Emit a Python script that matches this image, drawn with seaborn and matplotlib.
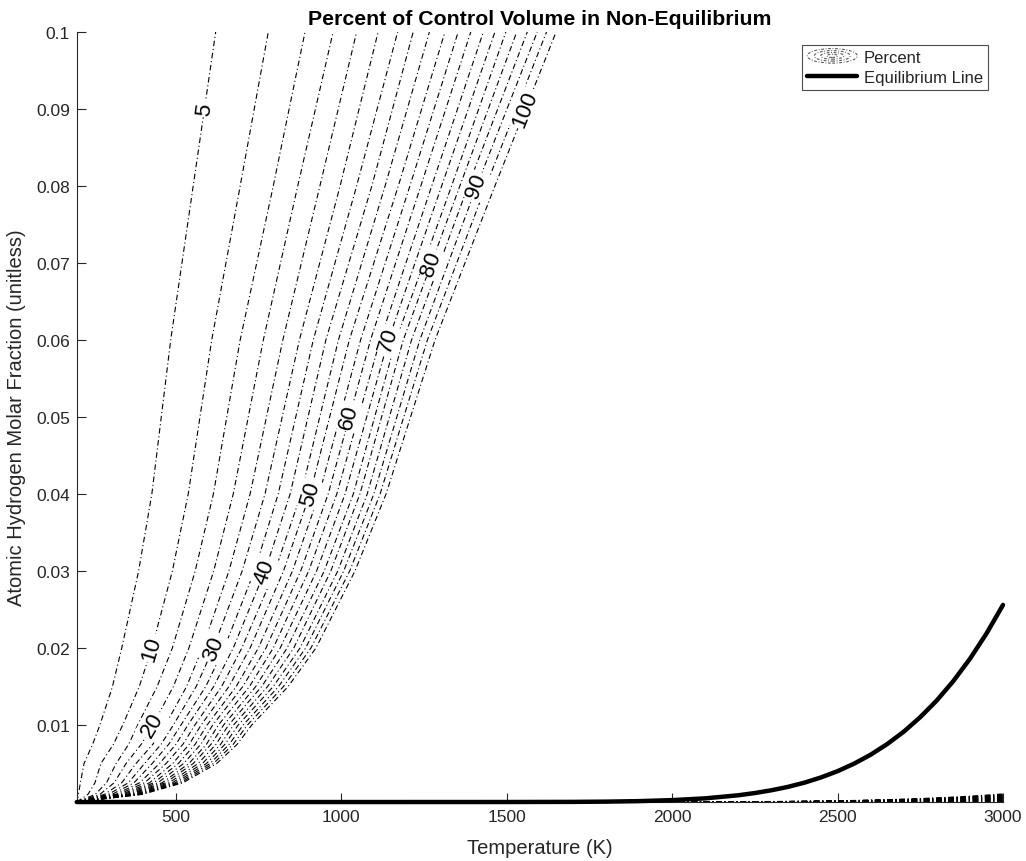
import numpy as np
import pandas as pd
import matplotlib
matplotlib.use("Agg")
import matplotlib.pyplot as plt
import seaborn as sns
from matplotlib.legend_handler import HandlerBase
from matplotlib.patches import Ellipse
from matplotlib.lines import Line2D

# ---------------- data ----------------
levels = [5, 10, 15, 20, 25, 30, 35, 40, 45, 50, 55, 60, 65, 70, 75, 80, 85, 90, 95, 100]
y_samples = [0.0, 0.001, 0.0025, 0.005, 0.0075, 0.01, 0.015, 0.02, 0.03, 0.04, 0.06, 0.08, 0.1]

# Temperature (K) where each contour level crosses each y sample
T_y0000 = [200] * 20
T_y0010 = [205, 234, 256, 270, 284, 296, 307, 318, 327, 336, 344, 352, 359, 365, 372, 379, 384, 389, 394, 399]
T_y0025 = [211, 255, 290, 313, 336, 356, 373, 390, 405, 420, 433, 445, 458, 468, 479, 489, 498, 506, 514, 521]
T_y0050 = [222, 273, 319, 349, 379, 405, 428, 450, 470, 490, 507, 523, 539, 552, 567, 580, 592, 603, 613, 623]
T_y0075 = [248, 311, 357, 395, 430, 455, 478, 500, 521, 540, 558, 575, 592, 606, 621, 635, 648, 661, 673, 685]
T_y0100 = [270, 339, 384, 430, 468, 492, 515, 536, 557, 576, 594, 611, 628, 644, 659, 674, 688, 703, 716, 729]
T_y0150 = [308, 389, 443, 492, 532, 561, 590, 614, 638, 660, 682, 702, 722, 741, 759, 777, 794, 810, 825, 839]
T_y0200 = [336, 427, 489, 539, 580, 613, 646, 673, 699, 724, 749, 772, 794, 815, 836, 856, 875, 892, 908, 923]
T_y0300 = [387, 489, 558, 614, 660, 700, 737, 769, 799, 825, 852, 877, 901, 925, 948, 968, 989, 1007, 1025, 1041]
T_y0400 = [427, 537, 613, 673, 724, 769, 809, 845, 878, 905, 933, 960, 986, 1011, 1036, 1056, 1078, 1098, 1117, 1135]
T_y0600 = [484, 608, 694, 764, 823, 873, 915, 953, 991, 1024, 1058, 1088, 1117, 1142, 1165, 1187, 1212, 1237, 1260, 1283]
T_y0800 = [552, 694, 794, 868, 935, 996, 1046, 1092, 1132, 1172, 1207, 1240, 1273, 1303, 1333, 1358, 1383, 1409, 1437, 1464]
T_y1000 = [620, 779, 890, 975, 1046, 1111, 1170, 1217, 1266, 1313, 1353, 1391, 1429, 1464, 1497, 1530, 1562, 1592, 1620, 1649]

# contour labels: level and the y at which its label sits
label_levels = [5, 10, 20, 30, 40, 50, 60, 70, 80, 90, 100]
label_y = [0.09, 0.02, 0.01, 0.02, 0.03, 0.04, 0.05, 0.06, 0.07, 0.08, 0.09]

# equilibrium line
eq_T = [200, 1000, 1500, 1700, 1800, 1900, 2000, 2100, 2200, 2250, 2300, 2350, 2400, 2450, 2500,
        2550, 2600, 2650, 2700, 2750, 2800, 2850, 2900, 2950, 3000]
eq_y = [0.0, 0.0, 0.000004, 0.000021, 0.000053, 0.00012, 0.00025, 0.00048, 0.00088, 0.00117, 0.00153,
        0.00197, 0.00252, 0.00320, 0.00401, 0.00499, 0.00615, 0.00753, 0.00914, 0.01103, 0.0132,
        0.01572, 0.0186, 0.02188, 0.0256]

# low branch of the contours hugging the axis at high T (fraction of the equilibrium value)
lower_fraction = [0.002, 0.004, 0.006, 0.008, 0.010, 0.012, 0.014, 0.016, 0.018, 0.020,
                  0.022, 0.024, 0.026, 0.028, 0.030, 0.032, 0.034, 0.036, 0.038, 0.041]

# ---------------- build long-form table ----------------
T_cols = [T_y0000, T_y0010, T_y0025, T_y0050, T_y0075, T_y0100, T_y0150, T_y0200,
          T_y0300, T_y0400, T_y0600, T_y0800, T_y1000]
rows = []
for i, lev in enumerate(levels):
    for j, yv in enumerate(y_samples):
        rows.append({"level": lev, "T": T_cols[j][i], "y": yv})
df = pd.DataFrame(rows)

low_rows = []
for i, lev in enumerate(levels):
    for tv, ev in zip(eq_T, eq_y):
        if tv >= 1800:
            low_rows.append({"level": lev, "T": tv, "y": ev * lower_fraction[i]})
df_low = pd.DataFrame(low_rows)

df_eq = pd.DataFrame({"T": eq_T, "y": eq_y})

# ---------------- style ----------------
sns.set_style("white")
plt.rcParams["font.family"] = ["Liberation Sans", "DejaVu Sans"]
plt.rcParams["lines.scale_dashes"] = True

fig = plt.figure(figsize=(10.26, 8.62), dpi=100)
ax = fig.add_axes([0.0748, 0.0684, 0.9028, 0.8933])

dash = (0, (5, 2.5, 1, 2.5))
ink = "#262626"

sns.lineplot(data=df, x="T", y="y", units="level", estimator=None, sort=False,
             color="black", lw=0.8, linestyle=dash, legend=False, ax=ax)
sns.lineplot(data=df_low, x="T", y="y", units="level", estimator=None, sort=False,
             color="black", lw=0.8, linestyle=dash, legend=False, ax=ax)
sns.lineplot(data=df_eq, x="T", y="y", estimator=None, sort=False,
             color="black", lw=3.2, legend=False, ax=ax, clip_on=False, zorder=5)

ax.set_xlim(200, 3000)
ax.set_ylim(0, 0.1)
ax.set_xticks([500, 1000, 1500, 2000, 2500, 3000])
ax.set_yticks([0.01, 0.02, 0.03, 0.04, 0.05, 0.06, 0.07, 0.08, 0.09, 0.1])
ax.set_yticklabels(["0.01", "0.02", "0.03", "0.04", "0.05", "0.06", "0.07", "0.08", "0.09", "0.1"])
ax.tick_params(direction="in", length=6.5, width=0.8, colors=ink, labelsize=12.5,
               labelcolor=ink, left=True, bottom=True, top=False, right=False, pad=5)
for s in ["top", "right"]:
    ax.spines[s].set_visible(False)
for s in ["left", "bottom"]:
    ax.spines[s].set_color(ink)
    ax.spines[s].set_linewidth(0.8)

ax.set_xlabel("Temperature (K)", fontsize=14.5, color=ink, labelpad=10)
ax.set_ylabel("Atomic Hydrogen Molar Fraction (unitless)", fontsize=14.5, color=ink, labelpad=7)
ax.set_title("Percent of Control Volume in Non-Equilibrium", fontsize=15.3,
             fontweight="bold", color="black", pad=5.5)

# ---------------- inline contour labels ----------------
fig.canvas.draw()
for lev, yl in zip(label_levels, label_y):
    i = levels.index(lev)
    curve_T = [col[i] for col in T_cols]
    tx = np.interp(yl, y_samples, curve_T)
    ya, yb = yl - 0.003, yl + 0.003
    pa = ax.transData.transform((np.interp(ya, y_samples, curve_T), ya))
    pb = ax.transData.transform((np.interp(yb, y_samples, curve_T), yb))
    ang = np.degrees(np.arctan2(pb[1] - pa[1], pb[0] - pa[0]))
    ax.text(tx, yl, str(lev), rotation=ang, rotation_mode="anchor", ha="center", va="center",
            fontsize=16, color="black", zorder=4,
            bbox=dict(boxstyle="square,pad=0.1", fc="white", ec="none"))

# ---------------- legend ----------------
class ContourHandler(HandlerBase):
    def create_artists(self, legend, orig_handle, xdescent, ydescent, width, height, fontsize, trans):
        arts = []
        cx = width / 2 - xdescent
        cy = height / 2 - ydescent
        for f in [1.0, 0.72, 0.46, 0.22]:
            e = Ellipse((cx, cy), width * f, height * 1.25 * f, fill=False,
                        ls=(0, (2.5, 1.5, 0.8, 1.5)), lw=0.8, ec="0.35", transform=trans)
            arts.append(e)
        return arts

contour_proxy = Line2D([], [], color="0.35")
eq_proxy = Line2D([], [], color="black", lw=3.2)
leg = ax.legend([contour_proxy, eq_proxy], ["Percent", "Equilibrium Line"],
                handler_map={contour_proxy: ContourHandler()},
                loc="upper right", bbox_to_anchor=(0.963, 0.947), bbox_transform=fig.transFigure,
                fontsize=12, frameon=True, fancybox=False, framealpha=1,
                handlelength=3.0, handletextpad=0.4, borderpad=0.3, labelspacing=0.3,
                borderaxespad=0)
leg.get_frame().set_edgecolor("0.3")
leg.get_frame().set_linewidth(0.8)

fig.savefig("out.png", dpi=100)
